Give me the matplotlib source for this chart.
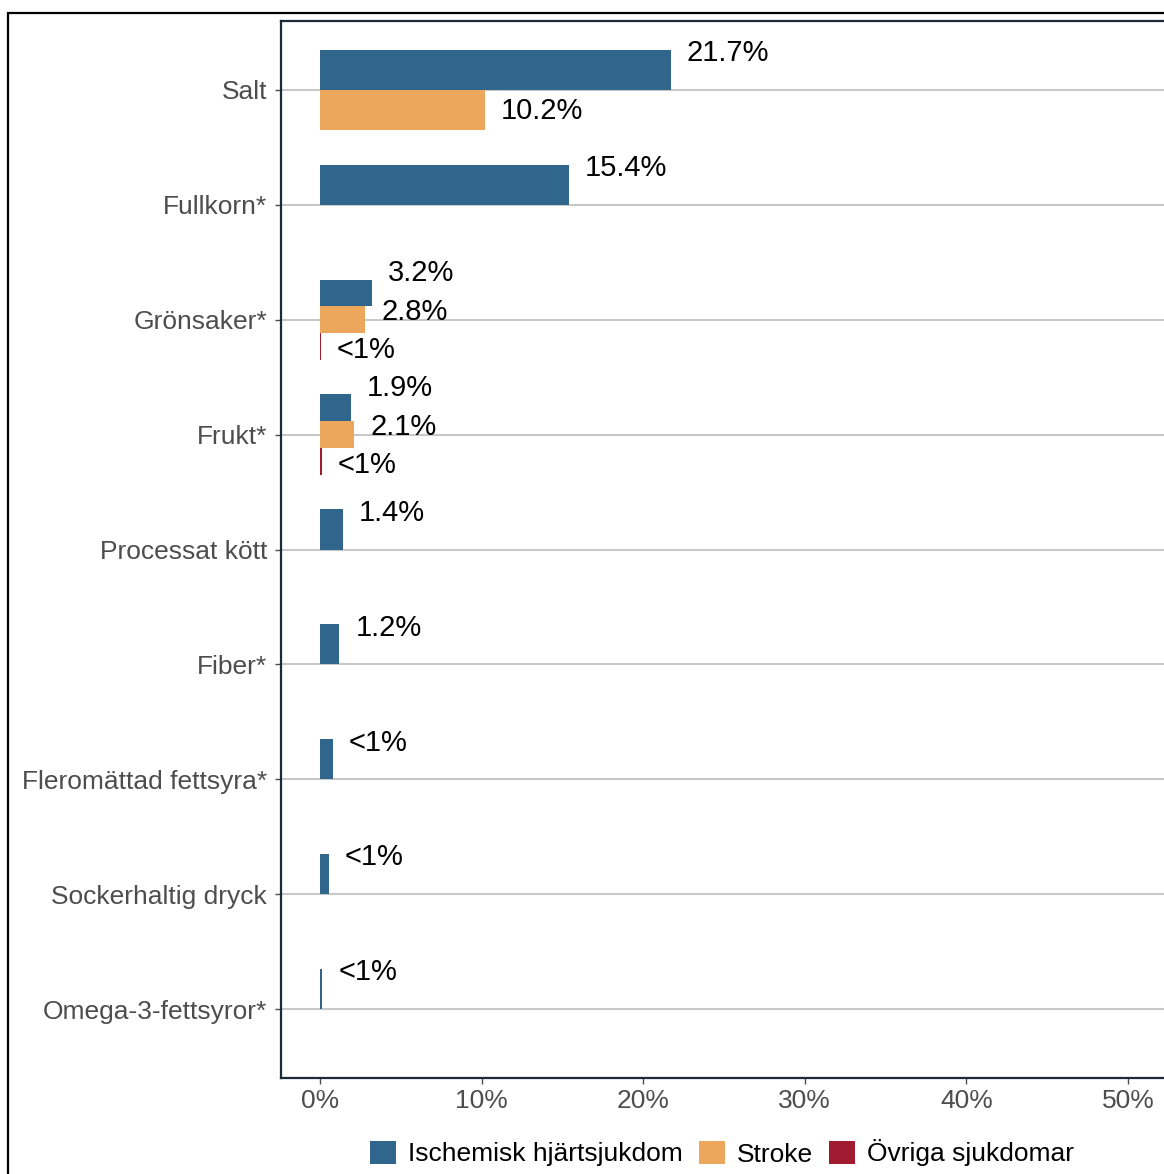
import numpy as np
import matplotlib.pyplot as plt
from matplotlib.patches import Patch, Rectangle

plt.rcParams['font.family'] = ['Liberation Sans', 'DejaVu Sans']

categories = ["Salt", "Fullkorn*", "Grönsaker*", "Frukt*", "Processat kött",
              "Fiber*", "Fleromättad fettsyra*", "Sockerhaltig dryck",
              "Omega-3-fettsyror*"]

# share of disease burden (%) per dietary risk
ihd = [21.7, 15.4, 3.2, 1.9, 1.4, 1.2, 0.8, 0.55, 0.15]
stroke = [10.2, None, 2.8, 2.1, None, None, None, None, None]
ovriga = [None, None, 0.05, 0.1, None, None, None, None, None]

ihd_lbl = ["21.7%", "15.4%", "3.2%", "1.9%", "1.4%", "1.2%", "<1%", "<1%", "<1%"]
stroke_lbl = ["10.2%", None, "2.8%", "2.1%", None, None, None, None, None]
ovriga_lbl = [None, None, "<1%", "<1%", None, None, None, None, None]

series_names = ["Ischemisk hjärtsjukdom", "Stroke", "Övriga sjukdomar"]
colors = ["#31668C", "#ECA75C", "#A01B30"]

xticks = [0, 10, 20, 30, 40, 50]

fig = plt.figure(figsize=(11.64, 11.74), dpi=100)
W, H = 1164.0, 1174.0

# outer frame (runs off the right and bottom edge)
fig.patches.append(Rectangle((7.5 / W, -0.1), 1.2, 1.1 - 13 / H,
                             transform=fig.transFigure, fill=False,
                             edgecolor="black", linewidth=1.6, zorder=0))

ax = fig.add_axes([281 / W, 1 - 1078 / H, (1170 - 281) / W, (1078 - 21) / H])

px = 161.6 / 10.0  # pixels per percent
ax.set_xlim((281 - 320) / px, (1170 - 320) / px)
ax.set_ylim(len(categories) - 0.4, -0.6)

dodge_bar = 0.7
dodge_txt = 1.0
txt_shift = 8.0 / 115.0

vals = [ihd, stroke, ovriga]
lbls = [ihd_lbl, stroke_lbl, ovriga_lbl]

for c in range(len(categories)):
    n = 3 if ovriga[c] is not None else 2
    for i in range(n):
        v = vals[i][c]
        off = i - (n - 1) / 2.0
        if v is not None:
            ax.barh(c + off * dodge_bar / n, v, height=dodge_bar / n,
                    color=colors[i], zorder=3, linewidth=0)
        if lbls[i][c] is not None:
            ax.text(v + 1.0, c + off * dodge_txt / n - txt_shift, lbls[i][c],
                    ha="left", va="center", fontsize=21, color="black", zorder=4)

ax.set_yticks(range(len(categories)))
ax.set_yticklabels(categories)
ax.set_xticks(xticks)
ax.set_xticklabels(["%d%%" % t for t in xticks])
ax.tick_params(axis="both", labelsize=19, labelcolor="#4D4D4D", color="#4D4D4D",
               length=4, width=1)
ax.tick_params(axis="y", pad=6)
ax.tick_params(axis="x", pad=4)

ax.yaxis.grid(True, color="#C8C8C8", linewidth=1.5, zorder=1)
ax.xaxis.grid(False)
ax.set_axisbelow(True)
for s in ax.spines.values():
    s.set_color("#1B2A3A")
    s.set_linewidth(1.6)

handles = [Patch(facecolor=col, edgecolor="none") for col in colors]
fig.legend(handles, series_names, loc="center", bbox_to_anchor=(722 / W, 1 - 1153 / H),
           ncol=3, frameon=False, fontsize=19, handlelength=1.0, handleheight=1.0,
           handletextpad=0.45, columnspacing=0.6, borderaxespad=0)

fig.savefig("out.png", dpi=100)
